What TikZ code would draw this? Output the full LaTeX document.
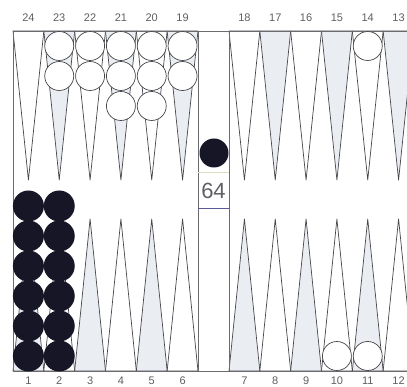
\documentclass[tikz,border=0pt]{standalone}
\usepackage{fontspec}
\setmainfont{Liberation Sans}
\definecolor{pointfill}{RGB}{234,238,242}
\definecolor{linegray}{RGB}{70,70,75}
\definecolor{stone}{RGB}{22,22,38}
\definecolor{labelgray}{RGB}{95,95,100}
\definecolor{cubeline}{RGB}{90,90,150}
\begin{document}
\begin{tikzpicture}[x=1pt, y=-1pt,
	pointline/.style={draw=linegray, line width=0.7pt, line join=round},
	frameline/.style={draw=linegray!80, line width=0.9pt},
	whitestone/.style={circle, draw=linegray, fill=white, line width=0.7pt, minimum size=29pt, inner sep=0pt},
	blackstone/.style={circle, fill=stone, minimum size=31pt, inner sep=0pt},
	pointnum/.style={font=\fontsize{11}{11}\selectfont, text=labelgray, inner sep=0pt}]
	\clip (0,0) rectangle (407,387);
	\fill[white] (0,0) rectangle (407,387);
	% points, odd numbers shaded
	\foreach \i in {0,...,5} {
		\ifodd\i \def\topfill{pointfill}\def\botfill{white}\else \def\topfill{white}\def\botfill{pointfill}\fi
		\pgfmathsetmacro{\xa}{13+30.83*\i}
		\pgfmathsetmacro{\xb}{229+30.83*\i}
		\foreach \xl in {\xa, \xb} {
			\filldraw[pointline, fill=\topfill] (\xl,31) -- ({\xl+15.42},180) -- ({\xl+30.83},31) -- cycle;
			\filldraw[pointline, fill=\botfill] (\xl,371) -- ({\xl+15.42},219) -- ({\xl+30.83},371) -- cycle;
		}
	}
	% frame and bar
	\draw[frameline] (13,31) -- (416,31);
	\draw[frameline] (13,371) -- (416,371);
	\draw[frameline] (13,31) -- (13,371);
	\draw[frameline] (198,31) -- (198,371);
	\draw[frameline] (229,31) -- (229,371);
	% numbers
	\foreach \p in {19,...,24} \node[pointnum] (n\p) at ({13+30.83*(24-\p)+15.42},18) {\p};
	\foreach \p in {13,...,18} \node[pointnum] (n\p) at ({229+30.83*(18-\p)+15.42},18) {\p};
	\foreach \p in {1,...,6} \node[pointnum] (n\p) at ({13+30.83*(\p-1)+15.42},381) {\p};
	\foreach \p in {7,...,12} \node[pointnum] (n\p) at ({229+30.83*(\p-7)+15.42},381) {\p};
	% white stones
	\foreach \p/\n in {23/2,22/2,21/3,20/3,19/2}
		\foreach \k in {1,...,\n}
			\node[whitestone] (w\p-\k) at ({13+30.83*(24-\p)+15.42},{16+30*\k}) {};
	\node[whitestone] (w14-1) at ({229+30.83*4+15.42},46) {};
	\node[whitestone] (w10-1) at ({229+30.83*3+15.42},356) {};
	\node[whitestone] (w11-1) at ({229+30.83*4+15.42},356) {};
	% black stones
	\foreach \p in {1,2}
		\foreach \k in {1,...,6}
			\node[blackstone] (b\p-\k) at ({13+30.83*(\p-1)+15.42},{386-30*\k}) {};
	\node[blackstone, minimum size=29pt] (bbar) at (214,153) {};
	% cube
	\node[minimum width=31pt, minimum height=35pt, inner sep=0pt, text=labelgray, font=\fontsize{22}{22}\selectfont] (cube) at (213.5,190.5) {64};
	\draw[draw=yellow!30!gray!40, line width=0.7pt] (cube.north west) -- (cube.north east);
	\draw[draw=cubeline, line width=0.8pt] (cube.south west) -- (cube.south east);
\end{tikzpicture}
\end{document}
